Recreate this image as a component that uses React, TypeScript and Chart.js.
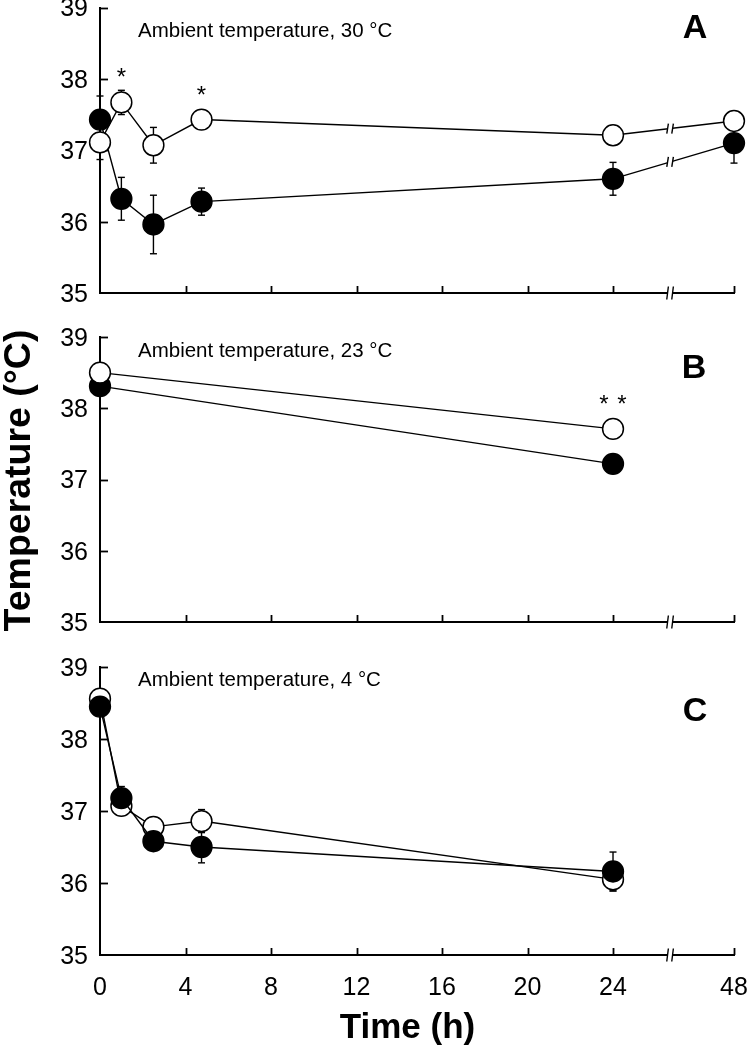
import React, { useEffect, useRef } from 'react';
import { Chart, registerables } from 'chart.js';

Chart.register(...registerables);

const FONT = '"Liberation Sans", Arial, Helvetica, sans-serif';

// ---- data ----
const hoursA = [0, 1, 2.5, 4.75, 24, 48];
const hoursB = [0, 24];
const hoursC = [0, 1, 2.5, 4.75, 24];

const openA = [37.11, 37.67, 37.07, 37.43, 37.21, 37.41];
const openErrA = [0.24, 0.17, 0.25, 0.08, 0.08, 0.08];
const filledA = [37.43, 36.32, 35.96, 36.28, 36.6, 37.1];
const filledErrA = [0.33, 0.3, 0.41, 0.19, 0.23, 0.28];
const starsA = [0, 1, 0, 1, 0, 0];

const openB = [38.5, 37.71];
const openErrB = [0.08, 0.08];
const filledB = [38.31, 37.22];
const filledErrB = [0.06, 0.06];
const starsB = [0, 2];

const openC = [38.56, 37.07, 36.78, 36.86, 36.05];
const openErrC = [0.1, 0.1, 0.1, 0.16, 0.16];
const filledC = [38.45, 37.18, 36.58, 36.5, 36.16];
const filledErrC = [0.1, 0.16, 0.1, 0.22, 0.27];
const starsC = [0, 0, 0, 0, 0];

const xTickValues = [0, 4, 8, 12, 16, 20, 24, 48];
const xTickLabels = ['0', '4', '8', '12', '16', '20', '24', '48'];
const yTickValues = [35, 36, 37, 38, 39];
const panelLetters = ['A', 'B', 'C'];
const ambientLabels = [
  'Ambient temperature, 30 \u00B0C',
  'Ambient temperature, 23 \u00B0C',
  'Ambient temperature, 4 \u00B0C',
];
const yTitle = 'Temperature (\u00B0C)';
const xTitle = 'Time (h)';

// broken axis: 0..24 linear, then a break, then 48
const BREAK_AT = 26.67;
const AXIS_END = 29.66;
const toAxis = (h: number) => (h > 24 ? AXIS_END : h);

const CANVAS_W = 780;

const panels = [
  {
    hours: hoursA, open: openA, openErr: openErrA, filled: filledA, filledErr: filledErrA, stars: starsA,
    top: -20, height: 340, padTop: 27.5, xAxisH: 19, showX: false, filledOnTop: false,
    annY: 56.7, letterY: 57.5, letterX: 695,
  },
  {
    hours: hoursB, open: openB, openErr: openErrB, filled: filledB, filledErr: filledErrB, stars: starsB,
    top: 310, height: 339, padTop: 25, xAxisH: 19, showX: false, filledOnTop: false,
    annY: 46.7, letterY: 68, letterX: 694,
  },
  {
    hours: hoursC, open: openC, openErr: openErrC, filled: filledC, filledErr: filledErrC, stars: starsC,
    top: 640, height: 408, padTop: 21.7, xAxisH: 93, showX: true, filledOnTop: true,
    annY: 46, letterY: 81, letterX: 695,
  },
];

function makeDecor(p: any, idx: number) {
  return {
    id: 'decor' + idx,
    beforeDatasetsDraw(chart: any) {
      const ctx = chart.ctx;
      const xs = chart.scales.x;
      const ys = chart.scales.y;
      const ca = chart.chartArea;
      const line = (x1: number, y1: number, x2: number, y2: number) => {
        ctx.beginPath();
        ctx.moveTo(x1, y1);
        ctx.lineTo(x2, y2);
        ctx.stroke();
      };
      ctx.save();
      ctx.strokeStyle = '#000';
      ctx.lineWidth = 1.8;
      yTickValues.forEach((v) => {
        if (v === 35) return;
        const y = Math.round(ys.getPixelForValue(v)) + 0.5;
        line(ca.left, y, ca.left + 8, y);
      });
      xTickValues.forEach((v) => {
        if (v === 0) return;
        const x = Math.round(xs.getPixelForValue(toAxis(v))) + 0.5;
        line(x, ca.bottom, x, ca.bottom - 7);
      });
      ctx.lineWidth = 1.4;
      const series = [
        [p.open, p.openErr],
        [p.filled, p.filledErr],
      ];
      series.forEach(([vals, errs]: any) => {
        vals.forEach((v: number, i: number) => {
          const x = xs.getPixelForValue(toAxis(p.hours[i]));
          const y1 = ys.getPixelForValue(v + errs[i]);
          const y2 = ys.getPixelForValue(v - errs[i]);
          line(x, y1, x, y2);
          line(x - 3.5, y1, x + 3.5, y1);
          line(x - 3.5, y2, x + 3.5, y2);
        });
      });
      ctx.restore();
    },
    afterDatasetsDraw(chart: any) {
      const ctx = chart.ctx;
      const xs = chart.scales.x;
      const ys = chart.scales.y;
      const ca = chart.chartArea;
      ctx.save();
      const bx = xs.getPixelForValue(BREAK_AT);
      const breakMark = (x: number, y: number, h: number, gapH: number) => {
        ctx.fillStyle = '#fff';
        ctx.fillRect(x - 2.5, y - gapH / 2, 5, gapH);
        ctx.strokeStyle = '#000';
        ctx.lineWidth = 1.4;
        [-2.5, 2.5].forEach((dx) => {
          ctx.beginPath();
          ctx.moveTo(x + dx - 0.8, y + h / 2);
          ctx.lineTo(x + dx + 0.8, y - h / 2);
          ctx.stroke();
        });
      };
      breakMark(bx, ca.bottom, 13, 5);
      [p.open, p.filled].forEach((vals: number[]) => {
        for (let i = 0; i < p.hours.length - 1; i++) {
          if (p.hours[i] <= 24 && p.hours[i + 1] > 24) {
            const x1 = xs.getPixelForValue(toAxis(p.hours[i]));
            const x2 = xs.getPixelForValue(toAxis(p.hours[i + 1]));
            const y1 = ys.getPixelForValue(vals[i]);
            const y2 = ys.getPixelForValue(vals[i + 1]);
            const y = y1 + ((bx - x1) / (x2 - x1)) * (y2 - y1);
            breakMark(bx, y, 10, 4);
          }
        }
      });
      // asterisks
      ctx.fillStyle = '#000';
      ctx.font = `24px ${FONT}`;
      ctx.textAlign = 'center';
      ctx.textBaseline = 'alphabetic';
      p.stars.forEach((n: number, i: number) => {
        if (!n) return;
        const x = xs.getPixelForValue(toAxis(p.hours[i]));
        const y = ys.getPixelForValue(p.open[i]) - 31 + 14;
        for (let k = 0; k < n; k++) {
          const sx = x + (k - (n - 1) / 2) * 18;
          ctx.fillText('*', sx, y);
        }
      });
      // ambient label
      ctx.textAlign = 'left';
      ctx.font = `20.5px ${FONT}`;
      ctx.fillText(ambientLabels[idx], 138, p.annY);
      // panel letter
      ctx.textAlign = 'center';
      ctx.font = `bold 34px ${FONT}`;
      ctx.fillText(panelLetters[idx], p.letterX, p.letterY);
      if (idx === 1) {
        ctx.save();
        ctx.translate(29.5, 170.5);
        ctx.rotate(-Math.PI / 2);
        ctx.font = `bold 37.5px ${FONT}`;
        ctx.textAlign = 'center';
        ctx.textBaseline = 'alphabetic';
        ctx.fillText(yTitle, 0, 0);
        ctx.restore();
      }
      if (idx === 2) {
        ctx.font = `bold 35px ${FONT}`;
        ctx.textAlign = 'center';
        ctx.textBaseline = 'alphabetic';
        ctx.fillText(xTitle, 407.5, 398);
      }
      ctx.restore();
    },
  };
}

function makeDataset(vals: number[], hours: number[], filled: boolean, order: number) {
  return {
    data: vals.map((v, i) => ({ x: toAxis(hours[i]), y: v })),
    borderColor: '#000',
    borderWidth: 1.4,
    backgroundColor: filled ? '#000' : '#fff',
    pointRadius: 10.4,
    pointHoverRadius: 10.4,
    pointBorderWidth: 1.5,
    pointBorderColor: '#000',
    pointBackgroundColor: filled ? '#000' : '#fff',
    fill: false,
    tension: 0,
    clip: false as any,
    order,
  };
}

export default function App() {
  const refs = [useRef<HTMLCanvasElement>(null), useRef<HTMLCanvasElement>(null), useRef<HTMLCanvasElement>(null)];

  useEffect(() => {
    const charts: Chart[] = [];
    panels.forEach((p, idx) => {
      const canvas = refs[idx].current;
      if (!canvas) return;
      const chart = new Chart(canvas, {
        type: 'line',
        data: {
          datasets: [
            makeDataset(p.open, p.hours, false, p.filledOnTop ? 1 : 0),
            makeDataset(p.filled, p.hours, true, p.filledOnTop ? 0 : 1),
          ],
        },
        options: {
          responsive: false,
          animation: false,
          events: [],
          layout: { padding: { top: p.padTop, left: 0, right: CANVAS_W - 734, bottom: 0 } },
          plugins: { legend: { display: false }, tooltip: { enabled: false } },
          scales: {
            x: {
              type: 'linear',
              min: 0,
              max: AXIS_END,
              afterBuildTicks: (s: any) => {
                s.ticks = xTickValues.map((v) => ({ value: toAxis(v) }));
              },
              afterFit: (s: any) => {
                s.height = p.xAxisH;
              },
              grid: { display: true, drawOnChartArea: false, drawTicks: false },
              border: { display: true, color: '#000', width: 2 },
              ticks: {
                display: p.showX,
                autoSkip: false,
                maxRotation: 0,
                minRotation: 0,
                padding: 18,
                color: '#000',
                font: { family: FONT, size: 25 },
                callback: (_v: any, i: number) => xTickLabels[i],
              },
            },
            y: {
              type: 'linear',
              min: 35,
              max: 39,
              afterBuildTicks: (s: any) => {
                s.ticks = yTickValues.map((v) => ({ value: v }));
              },
              afterFit: (s: any) => {
                s.width = 100;
              },
              grid: { display: true, drawOnChartArea: false, drawTicks: false },
              border: { display: true, color: '#000', width: 2 },
              ticks: {
                padding: 12,
                labelOffset: 2,
                color: '#000',
                font: { family: FONT, size: 25 },
                callback: (v: any) => String(v),
              },
            },
          },
        } as any,
        plugins: [makeDecor(p, idx)],
      });
      charts.push(chart);
    });
    return () => charts.forEach((c) => c.destroy());
  }, []);

  return (
    <div
      style={{
        position: 'absolute',
        left: 0,
        top: 0,
        width: 747,
        height: 1048,
        overflow: 'hidden',
        background: '#fff',
      }}
    >
      {panels.map((p, idx) => (
        <canvas
          key={idx}
          ref={refs[idx]}
          width={CANVAS_W}
          height={p.height}
          style={{ position: 'absolute', left: 0, top: p.top }}
        />
      ))}
    </div>
  );
}
